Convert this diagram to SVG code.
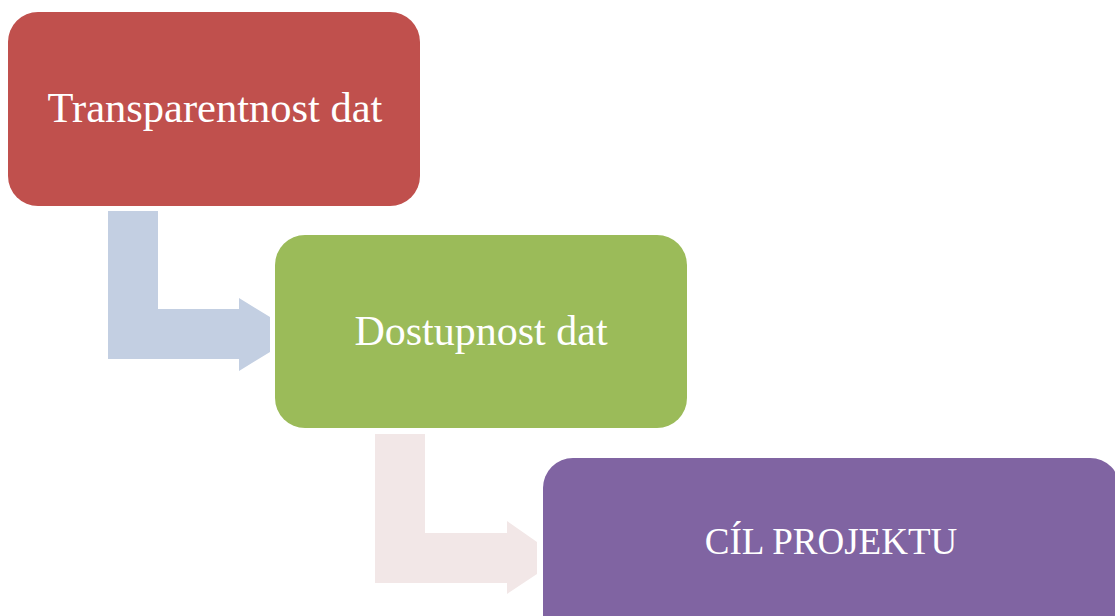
<svg xmlns="http://www.w3.org/2000/svg" width="1115" height="616" viewBox="0 0 1115 616">
<style>
.lbl{font-family:"Liberation Serif","Times New Roman",serif;fill:#ffffff;text-anchor:middle}
</style>
<rect width="1115" height="616" fill="#ffffff"/>
<g id="connectors">
<polygon points="108,211 158,211 158,309 239,309 239,298 270,317 270,352 239,371 239,359 108,359" fill="#C3CFE2"/>
<polygon points="375,434 425,434 425,533 507,533 507,521 537,542 537,574 507,594 507,583 375,583" fill="#F2E7E7"/>
</g>
<g id="node1">
<rect x="8" y="12" width="412" height="194" rx="30" fill="#C0504D"/>
<text class="lbl" x="215" y="122" font-size="42.5">Transparentnost dat</text>
</g>
<g id="node2">
<rect x="275" y="235" width="412" height="193" rx="30" fill="#9BBB59"/>
<text class="lbl" x="481" y="345" font-size="42">Dostupnost dat</text>
</g>
<g id="node3">
<rect x="543" y="458" width="577" height="193" rx="30" fill="#8064A2"/>
<text class="lbl" x="831" y="554" font-size="37">CÍL PROJEKTU</text>
</g>
</svg>
